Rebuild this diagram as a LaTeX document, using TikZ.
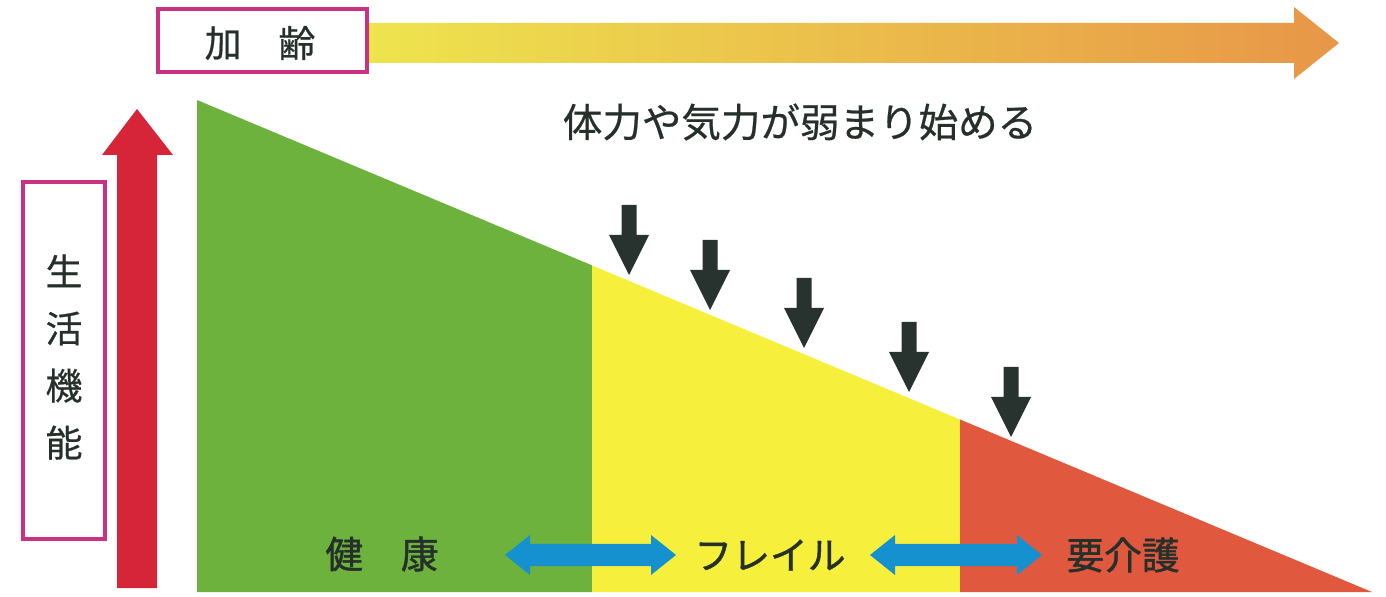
\documentclass[tikz,border=0pt]{standalone}
\usepackage{fontspec}
\setmainfont{Noto Sans CJK JP}
\newfontfamily\jpbold[FakeBold=1.2]{Noto Sans CJK JP}
\newfontfamily\jpmed[FakeBold=0.6]{Noto Sans CJK JP}
\definecolor{cgreen}{RGB}{108,178,60}
\definecolor{cyellow}{RGB}{246,240,60}
\definecolor{cred}{RGB}{224,88,62}
\definecolor{carrowred}{RGB}{214,36,56}
\definecolor{cmagenta}{RGB}{200,50,128}
\definecolor{cblue}{RGB}{22,145,208}
\definecolor{cdark}{RGB}{40,50,46}
\definecolor{cgradL}{RGB}{238,228,78}
\definecolor{cgradR}{RGB}{232,150,72}
\definecolor{ctext}{RGB}{38,48,43}
\newcommand\dnarrow[2]{\fill[cdark] ({#1-7.5},{#2-70}) -- ({#1+7.5},{#2-70}) -- ({#1+7.5},{#2-40}) -- ({#1+20},{#2-40}) -- (#1,#2) -- ({#1-20},{#2-40}) -- ({#1-7.5},{#2-40}) -- cycle;}
\newcommand\dblarrow[3]{\fill[cblue] (#1,#3) -- ({#1+25},{#3-20}) -- ({#1+25},{#3-11}) -- ({#2-25},{#3-11}) -- ({#2-25},{#3-20}) -- (#2,#3) -- ({#2-25},{#3+20}) -- ({#2-25},{#3+11}) -- ({#1+25},{#3+11}) -- ({#1+25},{#3+20}) -- cycle;}
\begin{document}
\begin{tikzpicture}[x=0.02cm,y=-0.02cm,
  lbl/.style={text=ctext,inner sep=0pt,font=\jpmed\fontsize{21pt}{25pt}\selectfont},
  blbl/.style={text=ctext,inner sep=0pt,font=\jpbold\fontsize{21.5pt}{25pt}\selectfont},
  framebox/.style={draw=cmagenta,line width=2.2pt,fill=white}]
\useasboundingbox (0,0) rectangle (1386,597);
% gradient arrow (age)
\shade[left color=cgradL,right color=cgradR] (367,23) -- (1294,23) -- (1294,7) -- (1339,43) -- (1294,79) -- (1294,63) -- (367,63) -- cycle;
\draw[framebox] (158,9) rectangle (367,72);
\node[lbl] (age) at (260,43) {加　齢};
% red arrow
\fill[carrowred] (117,588) -- (117,155) -- (102,155) -- (137,109) -- (173,155) -- (157,155) -- (157,588) -- cycle;
\draw[framebox] (23,182) rectangle (105,539);
\node[lbl,align=center,font=\jpmed\fontsize{21pt}{32.5pt}\selectfont] (func) at (64,357) {生\\活\\機\\能};
% triangle
\begin{scope}
\clip (197,100) -- (1372,592) -- (197,592) -- cycle;
\fill[cgreen] (190,90) rectangle (592,600);
\fill[cyellow] (592,90) rectangle (960,600);
\fill[cred] (960,90) rectangle (1380,600);
\end{scope}
\node[lbl,font=\jpmed\fontsize{22.5pt}{26pt}\selectfont] (weak) at (800,122) {体力や気力が弱まり始める};
% down arrows
\dnarrow{629}{275}
\dnarrow{710}{310}
\dnarrow{804}{348}
\dnarrow{909}{392}
\dnarrow{1011}{437}
% double arrows
\dblarrow{505}{676}{555}
\dblarrow{870}{1042}{555}
\node[blbl] (health) at (382,554) {健　康};
\node[blbl] (frail) at (770,555) {フレイル};
\node[blbl] (care) at (1123,555) {要介護};
\end{tikzpicture}
\end{document}
